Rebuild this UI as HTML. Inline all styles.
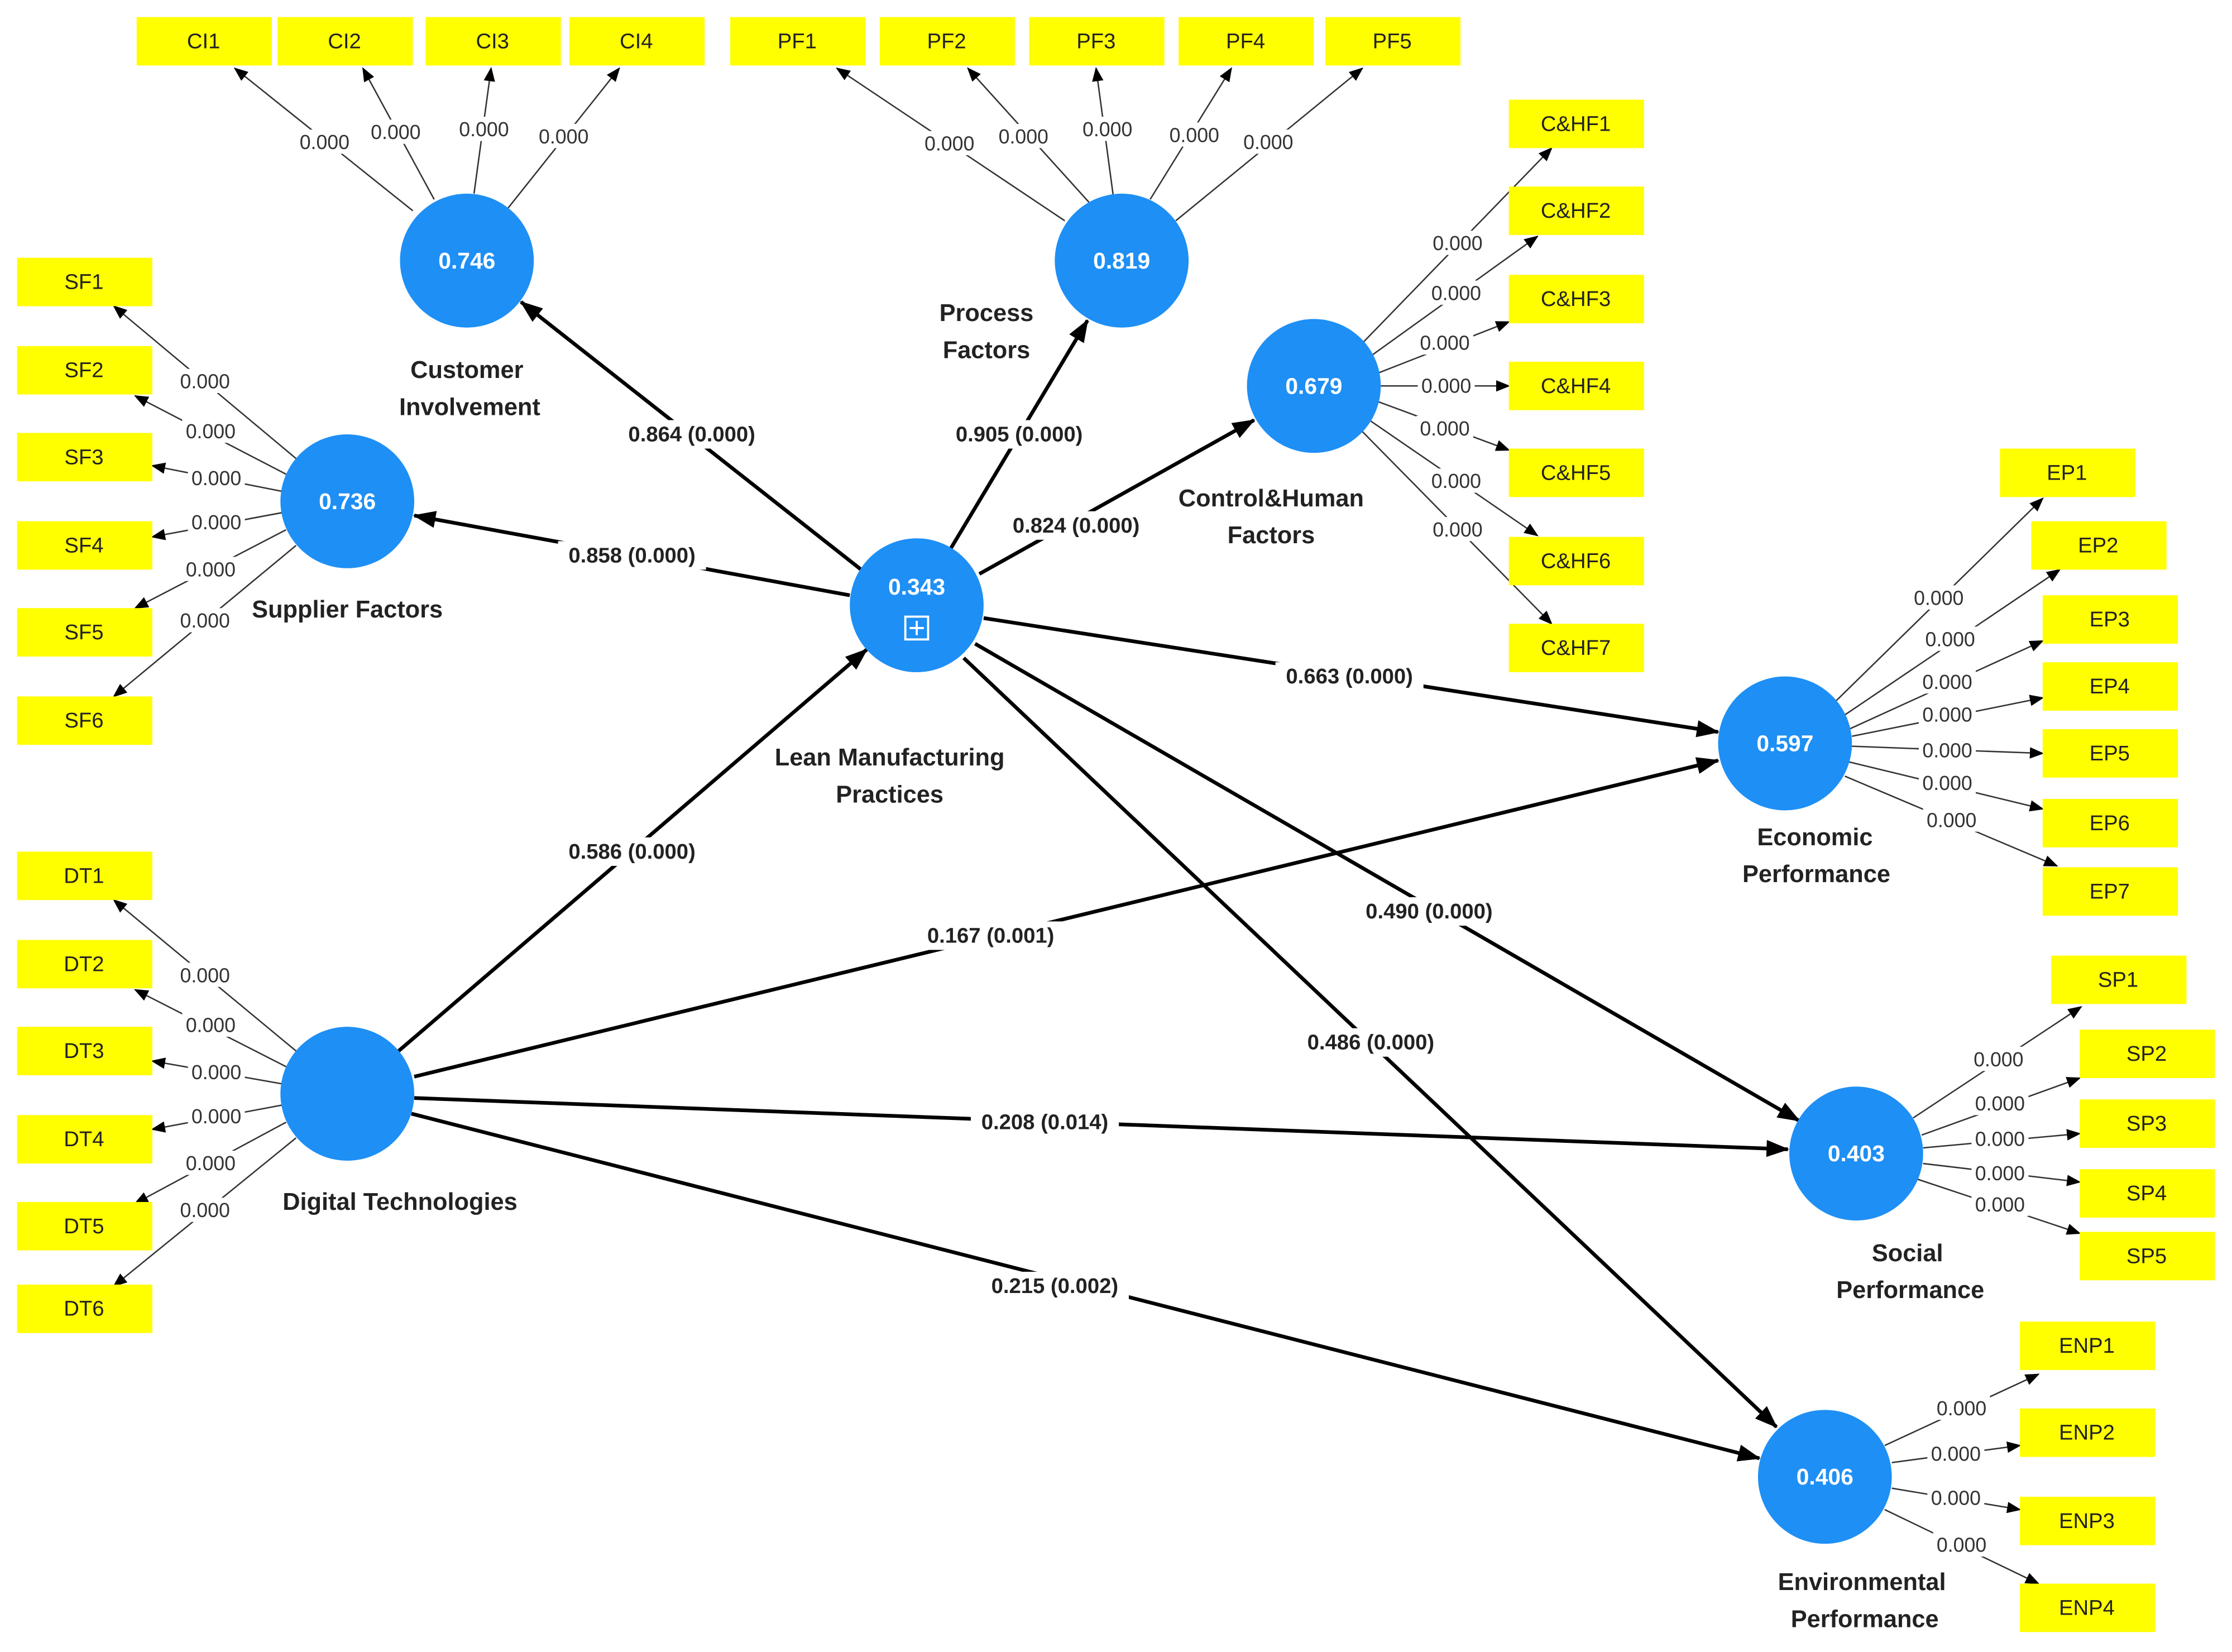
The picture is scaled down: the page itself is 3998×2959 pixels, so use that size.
<!DOCTYPE html>
<html><head><meta charset="utf-8"><style>
html,body{margin:0;padding:0;background:#fff;}
svg{display:block;}
.bx{fill:#ffff00;}
.bt{font-family:"Liberation Sans",sans-serif;font-size:15px;fill:#222;text-anchor:middle;dominant-baseline:central;}
.ld{stroke:#333;stroke-width:1;marker-end:url(#a1);}
.lt{font-family:"Liberation Sans",sans-serif;font-size:14px;fill:#333;text-anchor:middle;dominant-baseline:central;}
.lbg{fill:#fff;}
.st{stroke:#000;stroke-width:2.6;marker-end:url(#a2);}
.stt{font-family:"Liberation Sans",sans-serif;font-size:15px;font-weight:bold;fill:#222;text-anchor:middle;dominant-baseline:central;}
.c{fill:#1e8ff5;}
.ct{font-family:"Liberation Sans",sans-serif;font-size:16px;font-weight:bold;fill:#fff;text-anchor:middle;dominant-baseline:central;}
.nt{font-family:"Liberation Sans",sans-serif;font-size:17px;font-weight:bold;fill:#222;text-anchor:middle;dominant-baseline:central;}
</style></head><body>
<svg width="3998" height="2959" viewBox="0 0 1568 1160" preserveAspectRatio="none" xmlns="http://www.w3.org/2000/svg">
<defs>
<marker id="a1" markerWidth="10" markerHeight="8" refX="9" refY="4" orient="auto" markerUnits="userSpaceOnUse"><path d="M0,0 L10,4 L0,8 z" fill="#000"/></marker>
<marker id="a2" markerWidth="16" markerHeight="12" refX="15" refY="6" orient="auto" markerUnits="userSpaceOnUse"><path d="M0,0 L16,6 L0,12 z" fill="#000"/></marker>
</defs>

<!-- structural lines -->
<line class="st" x1="605" y1="400" x2="366" y2="212"/>
<line class="st" x1="597" y1="418" x2="291" y2="362"/>
<line class="st" x1="668" y1="385" x2="764" y2="225"/>
<line class="st" x1="688" y1="403" x2="881" y2="295"/>
<line class="st" x1="691" y1="434" x2="1207" y2="514"/>
<line class="st" x1="685" y1="452" x2="1264" y2="787"/>
<line class="st" x1="677" y1="462" x2="1248" y2="1002"/>
<line class="st" x1="280" y1="738" x2="609" y2="456"/>
<line class="st" x1="291" y1="756" x2="1207" y2="534"/>
<line class="st" x1="291" y1="771" x2="1256" y2="807"/>
<line class="st" x1="289" y1="782" x2="1236" y2="1024"/>

<!-- loading lines -->
<g>
<line class="ld" x1="290" y1="148" x2="165" y2="48"/>
<line class="ld" x1="305" y1="140" x2="255" y2="48"/>
<line class="ld" x1="333" y1="136" x2="345" y2="48"/>
<line class="ld" x1="357" y1="146" x2="435" y2="48"/>
<line class="ld" x1="748" y1="155" x2="588" y2="48"/>
<line class="ld" x1="765" y1="142" x2="680" y2="48"/>
<line class="ld" x1="782" y1="137" x2="770" y2="48"/>
<line class="ld" x1="808" y1="140" x2="865" y2="48"/>
<line class="ld" x1="826" y1="155" x2="957" y2="48"/>
<line class="ld" x1="958" y1="240" x2="1090" y2="104"/>
<line class="ld" x1="963" y1="250" x2="1080" y2="166"/>
<line class="ld" x1="968" y1="262" x2="1060" y2="226"/>
<line class="ld" x1="970" y1="271" x2="1060" y2="271"/>
<line class="ld" x1="968" y1="282" x2="1060" y2="316"/>
<line class="ld" x1="962" y1="295" x2="1080" y2="376"/>
<line class="ld" x1="957" y1="303" x2="1090" y2="438"/>
<line class="ld" x1="208" y1="322" x2="80" y2="215"/>
<line class="ld" x1="201" y1="333" x2="95" y2="278"/>
<line class="ld" x1="198" y1="345" x2="107" y2="327"/>
<line class="ld" x1="198" y1="360" x2="107" y2="377"/>
<line class="ld" x1="201" y1="372" x2="95" y2="427"/>
<line class="ld" x1="208" y1="383" x2="80" y2="489"/>
<line class="ld" x1="208" y1="738" x2="80" y2="632"/>
<line class="ld" x1="201" y1="749" x2="95" y2="695"/>
<line class="ld" x1="198" y1="761" x2="107" y2="745"/>
<line class="ld" x1="198" y1="776" x2="107" y2="793"/>
<line class="ld" x1="201" y1="788" x2="95" y2="845"/>
<line class="ld" x1="208" y1="799" x2="80" y2="903"/>
<line class="ld" x1="1290" y1="492" x2="1435" y2="350"/>
<line class="ld" x1="1296" y1="502" x2="1447" y2="400"/>
<line class="ld" x1="1299" y1="512" x2="1435" y2="450"/>
<line class="ld" x1="1301" y1="517" x2="1435" y2="490"/>
<line class="ld" x1="1301" y1="524" x2="1435" y2="529"/>
<line class="ld" x1="1299" y1="535" x2="1435" y2="568"/>
<line class="ld" x1="1296" y1="545" x2="1445" y2="608"/>
<line class="ld" x1="1344" y1="785" x2="1462" y2="707"/>
<line class="ld" x1="1350" y1="797" x2="1461" y2="757"/>
<line class="ld" x1="1351" y1="806" x2="1461" y2="796"/>
<line class="ld" x1="1351" y1="817" x2="1461" y2="830"/>
<line class="ld" x1="1347" y1="828" x2="1461" y2="866"/>
<line class="ld" x1="1324" y1="1015" x2="1432" y2="965"/>
<line class="ld" x1="1329" y1="1027" x2="1419" y2="1015"/>
<line class="ld" x1="1329" y1="1045" x2="1419" y2="1060"/>
<line class="ld" x1="1324" y1="1060" x2="1432" y2="1112"/>
</g>

<!-- loading labels -->
<g>
<rect class="lbg" x="208" y="91" width="40" height="17"/><text class="lt" x="228" y="100">0.000</text>
<rect class="lbg" x="258" y="84" width="40" height="17"/><text class="lt" x="278" y="93">0.000</text>
<rect class="lbg" x="320" y="82" width="40" height="17"/><text class="lt" x="340" y="91">0.000</text>
<rect class="lbg" x="376" y="87" width="40" height="17"/><text class="lt" x="396" y="96">0.000</text>
<rect class="lbg" x="647" y="92" width="40" height="17"/><text class="lt" x="667" y="101">0.000</text>
<rect class="lbg" x="699" y="87" width="40" height="17"/><text class="lt" x="719" y="96">0.000</text>
<rect class="lbg" x="758" y="82" width="40" height="17"/><text class="lt" x="778" y="91">0.000</text>
<rect class="lbg" x="819" y="86" width="40" height="17"/><text class="lt" x="839" y="95">0.000</text>
<rect class="lbg" x="871" y="91" width="40" height="17"/><text class="lt" x="891" y="100">0.000</text>
<rect class="lbg" x="1004" y="162" width="40" height="17"/><text class="lt" x="1024" y="171">0.000</text>
<rect class="lbg" x="1003" y="197" width="40" height="17"/><text class="lt" x="1023" y="206">0.000</text>
<rect class="lbg" x="995" y="232" width="40" height="17"/><text class="lt" x="1015" y="241">0.000</text>
<rect class="lbg" x="996" y="262" width="40" height="17"/><text class="lt" x="1016" y="271">0.000</text>
<rect class="lbg" x="995" y="292" width="40" height="17"/><text class="lt" x="1015" y="301">0.000</text>
<rect class="lbg" x="1003" y="329" width="40" height="17"/><text class="lt" x="1023" y="338">0.000</text>
<rect class="lbg" x="1004" y="363" width="40" height="17"/><text class="lt" x="1024" y="372">0.000</text>
<rect class="lbg" x="124" y="259" width="40" height="17"/><text class="lt" x="144" y="268">0.000</text>
<rect class="lbg" x="128" y="294" width="40" height="17"/><text class="lt" x="148" y="303">0.000</text>
<rect class="lbg" x="132" y="327" width="40" height="17"/><text class="lt" x="152" y="336">0.000</text>
<rect class="lbg" x="132" y="358" width="40" height="17"/><text class="lt" x="152" y="367">0.000</text>
<rect class="lbg" x="128" y="391" width="40" height="17"/><text class="lt" x="148" y="400">0.000</text>
<rect class="lbg" x="124" y="427" width="40" height="17"/><text class="lt" x="144" y="436">0.000</text>
<rect class="lbg" x="124" y="676" width="40" height="17"/><text class="lt" x="144" y="685">0.000</text>
<rect class="lbg" x="128" y="711" width="40" height="17"/><text class="lt" x="148" y="720">0.000</text>
<rect class="lbg" x="132" y="744" width="40" height="17"/><text class="lt" x="152" y="753">0.000</text>
<rect class="lbg" x="132" y="775" width="40" height="17"/><text class="lt" x="152" y="784">0.000</text>
<rect class="lbg" x="128" y="808" width="40" height="17"/><text class="lt" x="148" y="817">0.000</text>
<rect class="lbg" x="124" y="841" width="40" height="17"/><text class="lt" x="144" y="850">0.000</text>
<rect class="lbg" x="1342" y="411" width="40" height="17"/><text class="lt" x="1362" y="420">0.000</text>
<rect class="lbg" x="1350" y="440" width="40" height="17"/><text class="lt" x="1370" y="449">0.000</text>
<rect class="lbg" x="1348" y="470" width="40" height="17"/><text class="lt" x="1368" y="479">0.000</text>
<rect class="lbg" x="1348" y="493" width="40" height="17"/><text class="lt" x="1368" y="502">0.000</text>
<rect class="lbg" x="1348" y="518" width="40" height="17"/><text class="lt" x="1368" y="527">0.000</text>
<rect class="lbg" x="1348" y="541" width="40" height="17"/><text class="lt" x="1368" y="550">0.000</text>
<rect class="lbg" x="1351" y="567" width="40" height="17"/><text class="lt" x="1371" y="576">0.000</text>
<rect class="lbg" x="1384" y="735" width="40" height="17"/><text class="lt" x="1404" y="744">0.000</text>
<rect class="lbg" x="1385" y="766" width="40" height="17"/><text class="lt" x="1405" y="775">0.000</text>
<rect class="lbg" x="1385" y="791" width="40" height="17"/><text class="lt" x="1405" y="800">0.000</text>
<rect class="lbg" x="1385" y="815" width="40" height="17"/><text class="lt" x="1405" y="824">0.000</text>
<rect class="lbg" x="1385" y="837" width="40" height="17"/><text class="lt" x="1405" y="846">0.000</text>
<rect class="lbg" x="1358" y="980" width="40" height="17"/><text class="lt" x="1378" y="989">0.000</text>
<rect class="lbg" x="1354" y="1012" width="40" height="17"/><text class="lt" x="1374" y="1021">0.000</text>
<rect class="lbg" x="1354" y="1043" width="40" height="17"/><text class="lt" x="1374" y="1052">0.000</text>
<rect class="lbg" x="1358" y="1076" width="40" height="17"/><text class="lt" x="1378" y="1085">0.000</text>
</g>

<!-- structural labels -->
<g>
<rect class="lbg" x="434" y="295" width="104" height="20"/><text class="stt" x="486" y="305">0.864 (0.000)</text>
<rect class="lbg" x="392" y="380" width="104" height="20"/><text class="stt" x="444" y="390">0.858 (0.000)</text>
<rect class="lbg" x="664" y="295" width="104" height="20"/><text class="stt" x="716" y="305">0.905 (0.000)</text>
<rect class="lbg" x="704" y="359" width="104" height="20"/><text class="stt" x="756" y="369">0.824 (0.000)</text>
<rect class="lbg" x="896" y="465" width="104" height="20"/><text class="stt" x="948" y="475">0.663 (0.000)</text>
<rect class="lbg" x="952" y="630" width="104" height="20"/><text class="stt" x="1004" y="640">0.490 (0.000)</text>
<rect class="lbg" x="911" y="722" width="104" height="20"/><text class="stt" x="963" y="732">0.486 (0.000)</text>
<rect class="lbg" x="392" y="588" width="104" height="20"/><text class="stt" x="444" y="598">0.586 (0.000)</text>
<rect class="lbg" x="644" y="647" width="104" height="20"/><text class="stt" x="696" y="657">0.167 (0.001)</text>
<rect class="lbg" x="682" y="778" width="104" height="20"/><text class="stt" x="734" y="788">0.208 (0.014)</text>
<rect class="lbg" x="689" y="893" width="104" height="20"/><text class="stt" x="741" y="903">0.215 (0.002)</text>
</g>

<!-- boxes -->
<g>
<rect class="bx" x="96" y="12" width="95" height="34"/><text class="bt" x="143" y="29">CI1</text>
<rect class="bx" x="195" y="12" width="95" height="34"/><text class="bt" x="242" y="29">CI2</text>
<rect class="bx" x="299" y="12" width="95" height="34"/><text class="bt" x="346" y="29">CI3</text>
<rect class="bx" x="400" y="12" width="95" height="34"/><text class="bt" x="447" y="29">CI4</text>
<rect class="bx" x="513" y="12" width="95" height="34"/><text class="bt" x="560" y="29">PF1</text>
<rect class="bx" x="618" y="12" width="95" height="34"/><text class="bt" x="665" y="29">PF2</text>
<rect class="bx" x="723" y="12" width="95" height="34"/><text class="bt" x="770" y="29">PF3</text>
<rect class="bx" x="828" y="12" width="95" height="34"/><text class="bt" x="875" y="29">PF4</text>
<rect class="bx" x="931" y="12" width="95" height="34"/><text class="bt" x="978" y="29">PF5</text>
<rect class="bx" x="1060" y="70" width="95" height="34"/><text class="bt" x="1107" y="87">C&amp;HF1</text>
<rect class="bx" x="1060" y="131" width="95" height="34"/><text class="bt" x="1107" y="148">C&amp;HF2</text>
<rect class="bx" x="1060" y="193" width="95" height="34"/><text class="bt" x="1107" y="210">C&amp;HF3</text>
<rect class="bx" x="1060" y="254" width="95" height="34"/><text class="bt" x="1107" y="271">C&amp;HF4</text>
<rect class="bx" x="1060" y="315" width="95" height="34"/><text class="bt" x="1107" y="332">C&amp;HF5</text>
<rect class="bx" x="1060" y="377" width="95" height="34"/><text class="bt" x="1107" y="394">C&amp;HF6</text>
<rect class="bx" x="1060" y="438" width="95" height="34"/><text class="bt" x="1107" y="455">C&amp;HF7</text>
<rect class="bx" x="12" y="181" width="95" height="34"/><text class="bt" x="59" y="198">SF1</text>
<rect class="bx" x="12" y="243" width="95" height="34"/><text class="bt" x="59" y="260">SF2</text>
<rect class="bx" x="12" y="304" width="95" height="34"/><text class="bt" x="59" y="321">SF3</text>
<rect class="bx" x="12" y="366" width="95" height="34"/><text class="bt" x="59" y="383">SF4</text>
<rect class="bx" x="12" y="427" width="95" height="34"/><text class="bt" x="59" y="444">SF5</text>
<rect class="bx" x="12" y="489" width="95" height="34"/><text class="bt" x="59" y="506">SF6</text>
<rect class="bx" x="12" y="598" width="95" height="34"/><text class="bt" x="59" y="615">DT1</text>
<rect class="bx" x="12" y="660" width="95" height="34"/><text class="bt" x="59" y="677">DT2</text>
<rect class="bx" x="12" y="721" width="95" height="34"/><text class="bt" x="59" y="738">DT3</text>
<rect class="bx" x="12" y="783" width="95" height="34"/><text class="bt" x="59" y="800">DT4</text>
<rect class="bx" x="12" y="844" width="95" height="34"/><text class="bt" x="59" y="861">DT5</text>
<rect class="bx" x="12" y="902" width="95" height="34"/><text class="bt" x="59" y="919">DT6</text>
<rect class="bx" x="1405" y="315" width="95" height="34"/><text class="bt" x="1452" y="332">EP1</text>
<rect class="bx" x="1427" y="366" width="95" height="34"/><text class="bt" x="1474" y="383">EP2</text>
<rect class="bx" x="1435" y="418" width="95" height="34"/><text class="bt" x="1482" y="435">EP3</text>
<rect class="bx" x="1435" y="465" width="95" height="34"/><text class="bt" x="1482" y="482">EP4</text>
<rect class="bx" x="1435" y="512" width="95" height="34"/><text class="bt" x="1482" y="529">EP5</text>
<rect class="bx" x="1435" y="561" width="95" height="34"/><text class="bt" x="1482" y="578">EP6</text>
<rect class="bx" x="1435" y="609" width="95" height="34"/><text class="bt" x="1482" y="626">EP7</text>
<rect class="bx" x="1441" y="671" width="95" height="34"/><text class="bt" x="1488" y="688">SP1</text>
<rect class="bx" x="1461" y="723" width="95" height="34"/><text class="bt" x="1508" y="740">SP2</text>
<rect class="bx" x="1461" y="772" width="95" height="34"/><text class="bt" x="1508" y="789">SP3</text>
<rect class="bx" x="1461" y="821" width="95" height="34"/><text class="bt" x="1508" y="838">SP4</text>
<rect class="bx" x="1461" y="865" width="95" height="34"/><text class="bt" x="1508" y="882">SP5</text>
<rect class="bx" x="1419" y="928" width="95" height="34"/><text class="bt" x="1466" y="945">ENP1</text>
<rect class="bx" x="1419" y="989" width="95" height="34"/><text class="bt" x="1466" y="1006">ENP2</text>
<rect class="bx" x="1419" y="1051" width="95" height="34"/><text class="bt" x="1466" y="1068">ENP3</text>
<rect class="bx" x="1419" y="1112" width="95" height="34"/><text class="bt" x="1466" y="1129">ENP4</text>
</g>

<!-- circles -->
<g>
<circle class="c" cx="328" cy="183" r="47"/><text class="ct" x="328" y="183">0.746</text>
<circle class="c" cx="788" cy="183" r="47"/><text class="ct" x="788" y="183">0.819</text>
<circle class="c" cx="923" cy="271" r="47"/><text class="ct" x="923" y="271">0.679</text>
<circle class="c" cx="244" cy="352" r="47"/><text class="ct" x="244" y="352">0.736</text>
<circle class="c" cx="644" cy="425" r="47"/><text class="ct" x="644" y="412">0.343</text>
<rect x="636" y="433" width="16" height="16" fill="none" stroke="#fff" stroke-width="1.5"/>
<line x1="644" y1="436" x2="644" y2="446" stroke="#fff" stroke-width="1.5"/>
<line x1="639" y1="441" x2="649" y2="441" stroke="#fff" stroke-width="1.5"/>
<circle class="c" cx="1254" cy="522" r="47"/><text class="ct" x="1254" y="522">0.597</text>
<circle class="c" cx="244" cy="768" r="47"/>
<circle class="c" cx="1304" cy="810" r="47"/><text class="ct" x="1304" y="810">0.403</text>
<circle class="c" cx="1282" cy="1037" r="47"/><text class="ct" x="1282" y="1037">0.406</text>
</g>

<!-- node names -->
<g>
<text class="nt" x="328" y="260">Customer</text><text class="nt" x="330" y="286">Involvement</text>
<text class="nt" x="693" y="220">Process</text><text class="nt" x="693" y="246">Factors</text>
<text class="nt" x="893" y="350">Control&amp;Human</text><text class="nt" x="893" y="376">Factors</text>
<text class="nt" x="244" y="428">Supplier Factors</text>
<text class="nt" x="625" y="532">Lean Manufacturing</text><text class="nt" x="625" y="558">Practices</text>
<text class="nt" x="1275" y="588">Economic</text><text class="nt" x="1276" y="614">Performance</text>
<text class="nt" x="1340" y="880">Social</text><text class="nt" x="1342" y="906">Performance</text>
<text class="nt" x="1308" y="1111">Environmental</text><text class="nt" x="1310" y="1137">Performance</text>
<text class="nt" x="281" y="844">Digital Technologies</text>
</g>
</svg>
</body></html>
